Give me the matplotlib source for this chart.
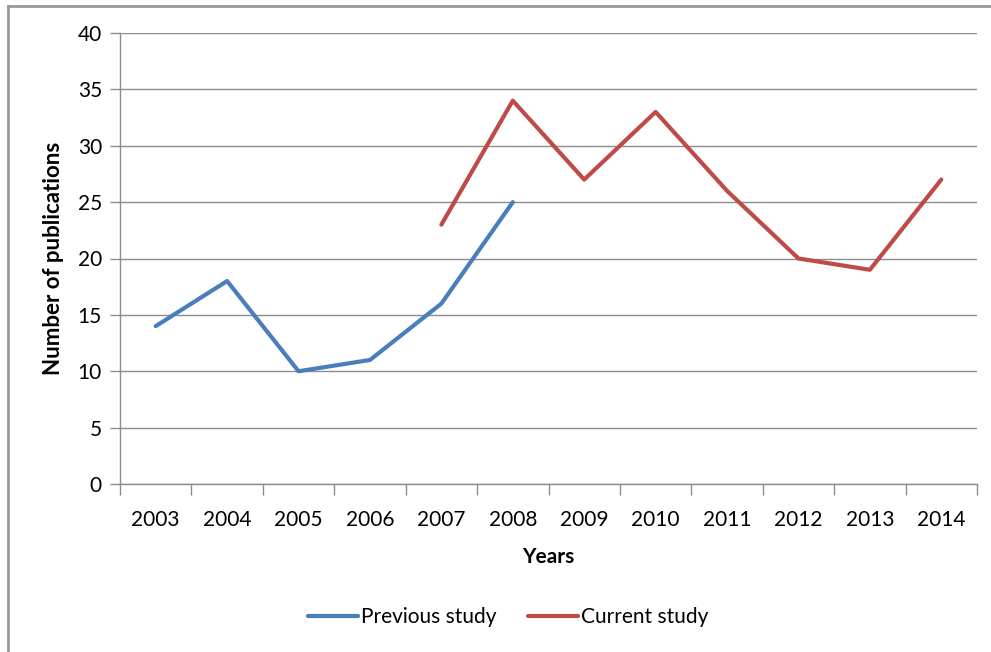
import matplotlib
matplotlib.use("Agg")
from matplotlib import pyplot as plt
from matplotlib.lines import Line2D

plt.rcParams['font.family'] = ['Lato', 'DejaVu Sans']

years = ['2003', '2004', '2005', '2006', '2007', '2008', '2009', '2010',
         '2011', '2012', '2013', '2014']
prev_years = ['2003', '2004', '2005', '2006', '2007', '2008']
prev_vals = [14, 18, 10, 11, 16, 25]
curr_years = ['2007', '2008', '2009', '2010', '2011', '2012', '2013', '2014']
curr_vals = [23, 34, 27, 33, 26, 20, 19, 27]

blue = '#4A7EBB'
red = '#BE4B48'
grid_c = '#8c8c8c'

fig = plt.figure(figsize=(9.91, 6.52), dpi=100)
ax = fig.add_axes([120/991, 1-484/652, (977-120)/991, (484-33)/652])

idx = {y: i for i, y in enumerate(years)}
ax.plot([idx[y] for y in prev_years], prev_vals, color=blue, lw=3,
        label='Previous study', solid_capstyle='round', solid_joinstyle='round')
ax.plot([idx[y] for y in curr_years], curr_vals, color=red, lw=3,
        label='Current study', solid_capstyle='round', solid_joinstyle='round')

ax.set_xlim(-0.5, len(years) - 0.5)
ax.set_ylim(0, 40)
ax.set_yticks(range(0, 41, 5))
ax.yaxis.grid(True, color=grid_c, lw=1)
ax.set_axisbelow(True)

# category boundaries as major ticks, labels on minor ticks
ax.set_xticks([i - 0.5 for i in range(len(years) + 1)])
ax.set_xticklabels([])
ax.set_xticks(range(len(years)), minor=True)
ax.set_xticklabels(years, minor=True)
ax.tick_params(axis='x', which='major', length=8, color=grid_c, width=1)
ax.tick_params(axis='x', which='minor', length=0, pad=19, labelsize=15)
ax.tick_params(axis='y', length=7, color=grid_c, width=1, pad=6, labelsize=15)

for s in ['top', 'right']:
    ax.spines[s].set_visible(False)
for s in ['left', 'bottom']:
    ax.spines[s].set_color(grid_c)
    ax.spines[s].set_linewidth(1)

ax.set_xlabel('Years', fontsize=15, fontweight='bold', labelpad=12)
ax.set_ylabel('Number of publications', fontsize=16, fontweight='bold', labelpad=10)

fig.legend(loc='center', bbox_to_anchor=(508/991, 1-617/652), ncol=2,
           frameon=False, fontsize=15, handlelength=2.4, columnspacing=1.5,
           handletextpad=0.15)

# outer chart frame
fig.add_artist(Line2D([8/991, 8/991], [0, 1-6/652], color='#999999', lw=2,
                      transform=fig.transFigure))
fig.add_artist(Line2D([8/991, 1], [1-6/652, 1-6/652], color='#999999', lw=2,
                      transform=fig.transFigure))

fig.savefig('out.png', dpi=100)
